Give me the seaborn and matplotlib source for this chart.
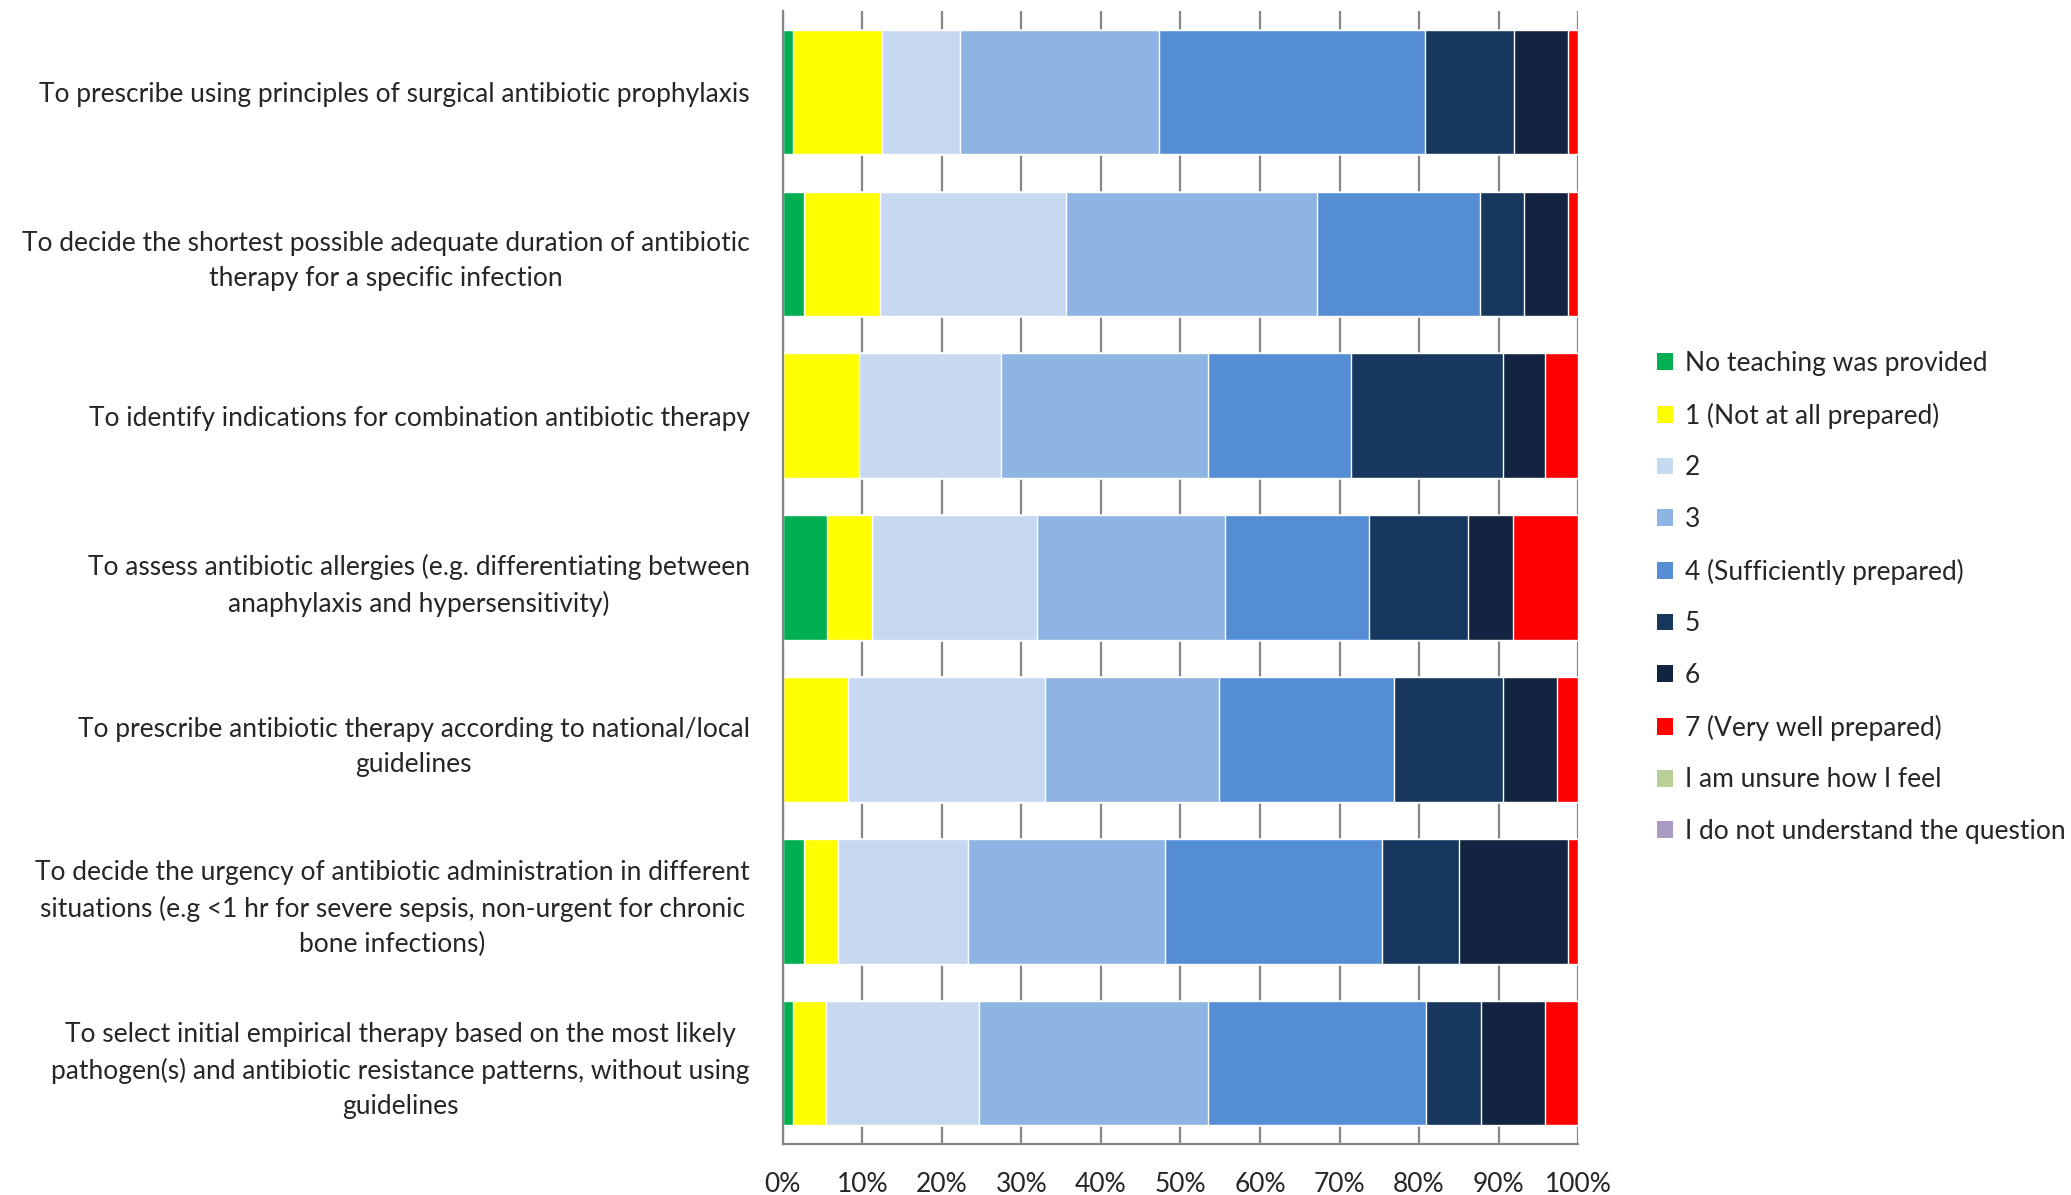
import numpy as np
import pandas as pd
import matplotlib
matplotlib.use("Agg")
import matplotlib.pyplot as plt
import seaborn as sns
from matplotlib.patches import Patch

# survey items (top to bottom)
items = [
    "To prescribe using principles of surgical antibiotic prophylaxis",
    "To decide the shortest possible adequate duration of antibiotic\ntherapy for a specific infection",
    "To identify indications for combination antibiotic therapy",
    "To assess antibiotic allergies (e.g. differentiating between\nanaphylaxis and hypersensitivity)",
    "To prescribe antibiotic therapy according to national/local\nguidelines",
    "To decide the urgency of antibiotic administration in different\nsituations (e.g <1 hr for severe sepsis, non-urgent for chronic\nbone infections)",
    "To select initial empirical therapy based on the most likely\npathogen(s) and antibiotic resistance patterns, without using\nguidelines",
]

responses = [
    "No teaching was provided",
    "1 (Not at all prepared)",
    "2",
    "3",
    "4 (Sufficiently prepared)",
    "5",
    "6",
    "7 (Very well prepared)",
    "I am unsure how I feel",
    "I do not understand the question",
]

# percent of respondents per response, one list per item
no_teaching = [1.3, 2.7, 0.0, 5.6, 0.0, 2.7, 1.3]
score_1 = [11.2, 9.5, 9.6, 5.6, 8.2, 4.2, 4.1]
score_2 = [9.8, 23.4, 17.8, 20.8, 24.8, 16.4, 19.3]
score_3 = [25.0, 31.6, 26.1, 23.6, 21.8, 24.7, 28.8]
score_4 = [33.4, 20.5, 17.9, 18.1, 22.0, 27.4, 27.4]
score_5 = [11.2, 5.5, 19.2, 12.5, 13.8, 9.6, 6.9]
score_6 = [6.8, 5.5, 5.3, 5.6, 6.7, 13.7, 8.1]
score_7 = [1.3, 1.3, 4.1, 8.2, 2.7, 1.3, 4.1]
unsure = [0, 0, 0, 0, 0, 0, 0]
not_understand = [0, 0, 0, 0, 0, 0, 0]

colors = ["#00B050", "#FFFF00", "#C6D9F1", "#8EB4E3", "#558ED5",
          "#17375E", "#12243F", "#FF0000", "#B9CF96", "#A99BC2"]

series = [no_teaching, score_1, score_2, score_3, score_4,
          score_5, score_6, score_7, unsure, not_understand]

df = pd.DataFrame(dict(zip(responses, series)))
df.insert(0, "item", items)
cum = df[responses].cumsum(axis=1)
cum["item"] = items

sns.set_style("white")
plt.rcParams["font.family"] = ["Lato", "DejaVu Sans"]

fig = plt.figure(figsize=(20.71, 11.95), dpi=100)
ax = fig.add_axes([0.378, 0.0427, 0.384, 0.948])

grey = "#868686"
fs = 19

# draw cumulative bars from the last response backwards so they stack
for resp, col in reversed(list(zip(responses, colors))):
    sns.barplot(data=cum, x=resp, y="item", order=items, color=col,
                width=0.77, orient="h", saturation=1, ax=ax, zorder=2)

ax.set_xlim(0, 100)
ax.set_ylim(6.5, -0.5)
ax.set_xlabel("")
ax.set_ylabel("")

ax.set_xticks(np.arange(0, 101, 10))
ax.set_xticklabels([f"{v}%" for v in range(0, 101, 10)], fontsize=fs)
ax.xaxis.grid(True, color=grey, linewidth=1.6, zorder=0)
ax.set_axisbelow(True)

ax.set_yticks(range(len(items)))
ax.set_yticklabels(items, fontsize=fs)
for t in ax.get_yticklabels():
    t.set_multialignment("center")
    t.set_linespacing(1.5)
ax.set_yticks(np.arange(-0.5, len(items), 1), minor=True)
ax.tick_params(axis="y", which="major", length=0, pad=24)
ax.tick_params(axis="y", which="minor", length=8, width=1.6, color=grey, direction="out")
ax.tick_params(axis="x", which="major", length=7, width=1.6, color=grey, direction="out", pad=13)

for side in ["top", "right"]:
    ax.spines[side].set_visible(False)
for side in ["left", "bottom"]:
    ax.spines[side].set_color(grey)
    ax.spines[side].set_linewidth(1.6)

handles = [Patch(facecolor=c, edgecolor="none") for c in colors]
fig.legend(handles, responses, loc="center left", bbox_to_anchor=(0.8, 0.5),
           frameon=False, fontsize=fs, handlelength=0.6, handleheight=0.6,
           handletextpad=0.45, labelspacing=1.01, borderpad=0, borderaxespad=0)

fig.savefig("out.png", dpi=100)
